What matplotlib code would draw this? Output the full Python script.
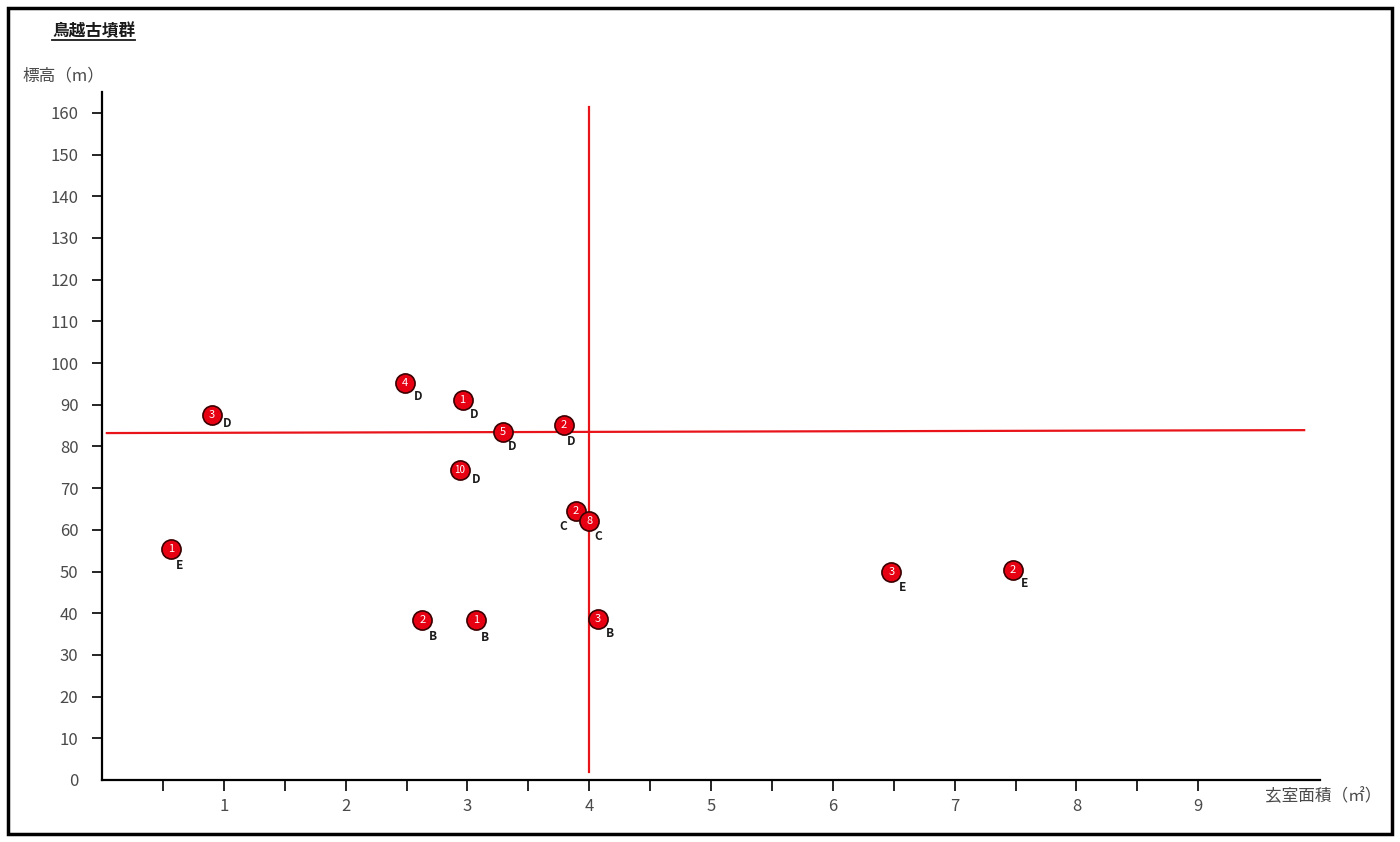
import numpy as np
import matplotlib.pyplot as plt
from matplotlib.patches import Rectangle

plt.rcParams['font.family'] = ['Noto Sans CJK JP', 'DejaVu Sans']

# data
area = [0.57, 0.90, 2.49, 2.96, 3.29, 3.79, 2.94, 3.89, 4.00, 2.63, 3.07, 4.07, 6.48, 7.48]
height = [55.4, 87.5, 95.2, 91.1, 83.5, 85.1, 74.3, 64.5, 62.1, 38.4, 38.4, 38.6, 49.9, 50.4]
count = ['1', '3', '4', '1', '5', '2', '10', '2', '8', '2', '1', '3', '3', '2']
rank = ['E', 'D', 'D', 'D', 'D', 'D', 'D', 'C', 'C', 'B', 'B', 'B', 'E', 'E']

vline_x = 4.0
vline_y = [2, 161.5]
hline_x = [0.04, 9.87]
hline_y = [83.2, 83.9]

xticks_major = [1, 2, 3, 4, 5, 6, 7, 8, 9]
xticks_minor = [0.5, 1.5, 2.5, 3.5, 4.5, 5.5, 6.5, 7.5, 8.5]
yticks = list(range(0, 161, 10))

# letter offsets in pixels (dx right, dy down)
offs = [(8, 17), (16, 8), (13, 13), (12, 14), (9, 15), (8, 16), (16, 9),
        (-13, 15), (9, 15), (11, 17), (9, 18), (12, 14), (11, 16), (11, 14)]

fig = plt.figure(figsize=(14, 8.42), dpi=100)
ax = fig.add_axes([102/1400, 1-780/842, 1218/1400, 688/842])
ax.set_xlim(0, 10)
ax.set_ylim(0, 688/4.17)

txt = '#4a4a4a'
for s in ['top', 'right']:
    ax.spines[s].set_visible(False)
for s in ['left', 'bottom']:
    ax.spines[s].set_linewidth(1.6)
    ax.spines[s].set_color('black')

ax.set_xticks(xticks_major)
ax.set_xticklabels([str(v) for v in xticks_major])
ax.set_xticks(xticks_minor, minor=True)
ax.set_yticks(yticks)
ax.set_yticklabels([str(v) for v in yticks])
ax.tick_params(axis='x', which='both', direction='out', length=8, width=1.2,
               colors='black', labelcolor=txt, labelsize=12, pad=5)
ax.tick_params(axis='y', direction='out', length=7, width=1.2,
               colors='black', labelcolor=txt, labelsize=12, pad=10)
ax.get_yticklines()[0].set_visible(False)

# red reference lines
ax.plot([vline_x, vline_x], vline_y, color='#e8141a', lw=1.6, zorder=2)
ax.plot(hline_x, hline_y, color='#e8141a', lw=1.6, zorder=2)

ax.scatter(area, height, s=190, color='#e60012', edgecolors='#3a0000',
           linewidths=1.2, zorder=3)
for x, y, c, r, (dx, dy) in zip(area, height, count, rank, offs):
    ax.annotate(c, (x, y), ha='center', va='center', color='white',
                fontsize=8 if len(c) == 1 else 7, zorder=4)
    ax.annotate(r, (x, y), xytext=(dx*0.72, -dy*0.72), textcoords='offset points',
                ha='center', va='center', color='#1a1a1a', fontsize=8.5,
                fontweight='bold', zorder=4)

title = fig.text(52/1400, 1-31/842, '鳥越古墳群', fontsize=12, fontweight='bold',
                 color='#1a1a1a', va='center', ha='left')
fig.canvas.draw()
bb = title.get_window_extent().transformed(fig.transFigure.inverted())
fig.add_artist(plt.Line2D([bb.x0, bb.x1], [1-40/842, 1-40/842],
                          color='#1a1a1a', lw=1.3))
fig.text(22/1400, 1-76/842, '標高（m）', fontsize=12, color=txt,
         va='center', ha='left')
fig.text(1265/1400, 1-797/842, '玄室面積（㎡）', fontsize=12, color=txt,
         va='center', ha='left')

# outer frame
fig.add_artist(Rectangle((8/1400, 8/842), 1384/1400, 826/842, fill=False,
                         edgecolor='black', lw=2.5, transform=fig.transFigure))

fig.savefig('out.png', dpi=100)
